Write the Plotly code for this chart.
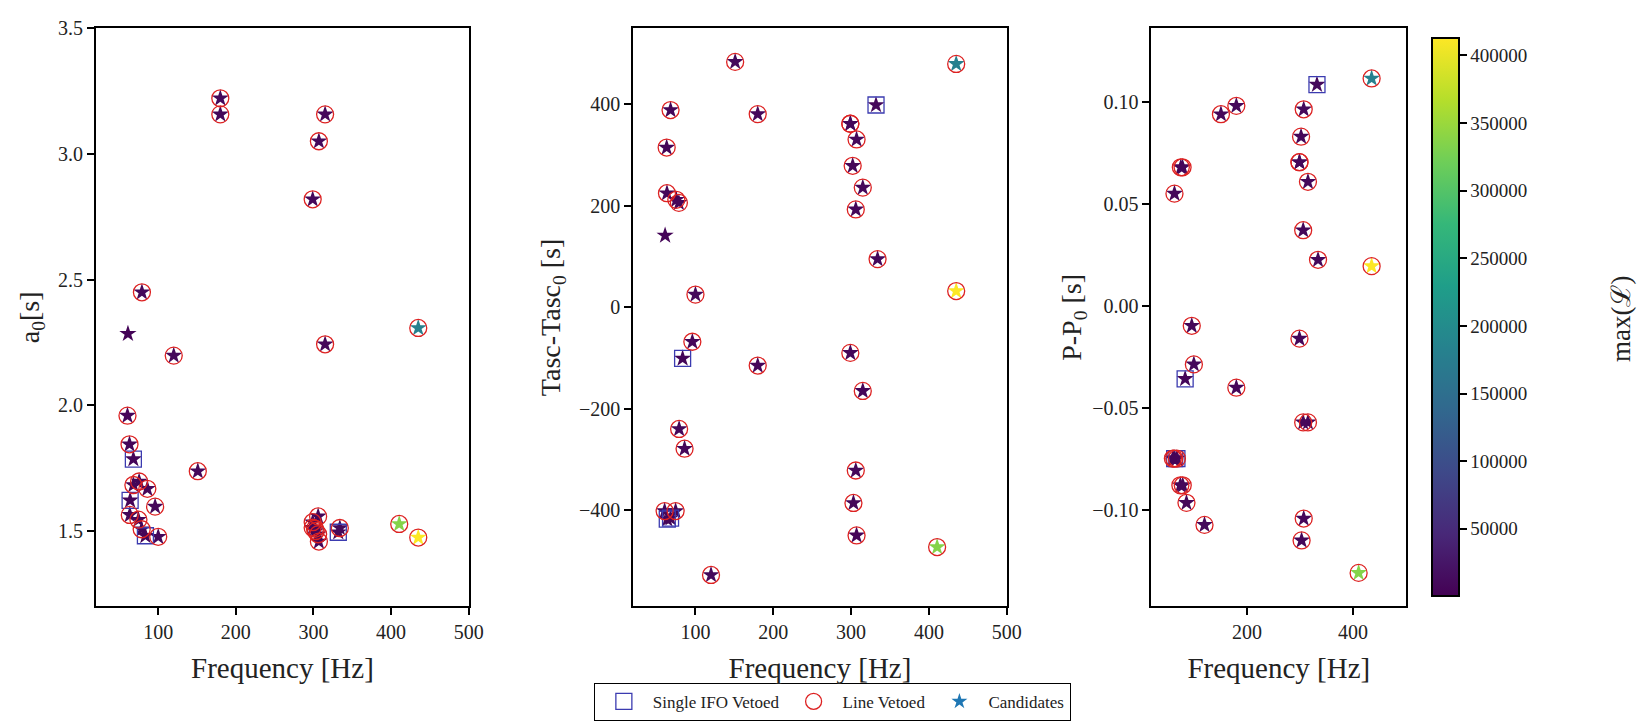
import plotly.graph_objects as go

# ---- data (one entry per candidate) ----
freq = [60.4, 63.0, 63.4, 68.0, 74.5, 75.4, 78.7, 79.0, 86.0,
        63.8, 68.0, 83.5, 61.0,
        96.0, 100.0, 120.0, 151.0, 180.0, 180.0,
        315.0, 315.0, 307.0, 306.0, 306.0, 307.0, 299.0, 299.0, 302.0, 299.0, 303.0,
        334.0, 332.0, 435.0, 435.0, 410.5]
a0 = [1.959, 1.845, 1.564, 1.683, 1.545, 1.697, 1.507, 2.450, 1.668,
      1.622, 1.786, 1.481, 2.285,
      1.597, 1.477, 2.198, 1.738, 3.222, 3.158,
      3.158, 2.243, 3.051, 1.558, 1.487, 1.458, 2.820, 1.535, 1.509, 1.513, 1.500,
      1.512, 1.495, 2.308, 1.474, 1.528]
tasc = [-402, 315, 225, 389, -402, 212, 206, -240, -279,
        -418, -416, -101, 141.6,
        -68, 25, -528, 484, 381, -115,
        236, -165, 331, 193, -322, -450, 362, 362, 279, -90, -386,
        95, 399, 480, 32, -473]
dP = [-0.0746, -0.0746, 0.0551, -0.0746, -0.0877, 0.068, 0.068, -0.0877, -0.0963,
      -0.0746, -0.0746, -0.0356, -0.0746,
      -0.0096, -0.0285, -0.1071, 0.094, 0.0981, -0.0399,
      0.0609, -0.0569, 0.0964, 0.0372, -0.0569, -0.104, 0.0705, 0.0705, 0.083, -0.0159, -0.1147,
      0.0227, 0.1085, 0.1115, 0.0196, -0.1306]
maxL = [6000, 5000, 7000, 5500, 6500, 5000, 6000, 8000, 7000,
        5000, 6000, 5500, 4000,
        7000, 8000, 9000, 8000, 9000, 7000,
        8000, 6000, 9000, 7000, 8000, 6000, 9000, 8000, 7000, 6000, 7000,
        8000, 9000, 180000, 412000, 335000]
single_ifo = [False]*9 + [True, True, True, False] + [False]*6 + [False]*11 + [False, True, False, False, False]
line_veto = [True]*9 + [False, False, False, False] + [True]*6 + [True]*11 + [True, False, True, True, True]

legend_labels = ["Single IFO Vetoed", "Line Vetoed", "Candidates"]
colorbar_title = "max(ℒ)"
colorbar_ticks = [50000, 100000, 150000, 200000, 250000, 300000, 350000, 400000]
x_title = "Frequency [Hz]"
y_titles = ["a<sub>0</sub>[s]", "Tasc-Tasc<sub>0</sub> [s]", "P-P<sub>0</sub> [s]"]

FONT = "Liberation Serif, DejaVu Serif, serif"
TXT = "#222222"
SQ_COLOR = "#3b3bb0"
CIRC_COLOR = "#dd2222"
W, H = 1651, 721

fig = go.Figure()
ys = [a0, tasc, dP]
for i, yv in enumerate(ys):
    xa = "x" if i == 0 else f"x{i+1}"
    ya = "y" if i == 0 else f"y{i+1}"
    fig.add_trace(go.Scatter(
        x=freq, y=yv, xaxis=xa, yaxis=ya, mode="markers", showlegend=False,
        marker=dict(symbol="star", size=13, color=maxL, colorscale="Viridis",
                    cmin=0, cmax=412500, line=dict(width=0),
                    showscale=(i == 2),
                    colorbar=dict(x=1435/W, xanchor="left", y=1-18/H, yanchor="top",
                                  len=(615-18)/H, lenmode="fraction", thickness=27,
                                  outlinecolor="black", outlinewidth=2,
                                  ticks="outside", ticklen=7, tickwidth=1.5, tickcolor="black",
                                  tickvals=colorbar_ticks,
                                  ticktext=[str(v) for v in colorbar_ticks],
                                  tickfont=dict(family=FONT, size=19, color=TXT))),
    ))
    sx = [f for f, s in zip(freq, single_ifo) if s]
    sy = [v for v, s in zip(yv, single_ifo) if s]
    fig.add_trace(go.Scatter(
        x=sx, y=sy, xaxis=xa, yaxis=ya, mode="markers", name=legend_labels[0],
        showlegend=(i == 0), legendrank=1,
        marker=dict(symbol="square-open", size=16, color=SQ_COLOR, line=dict(width=1.3, color=SQ_COLOR)),
    ))
    cx = [f for f, s in zip(freq, line_veto) if s]
    cy = [v for v, s in zip(yv, line_veto) if s]
    fig.add_trace(go.Scatter(
        x=cx, y=cy, xaxis=xa, yaxis=ya, mode="markers", name=legend_labels[1],
        showlegend=(i == 0), legendrank=2,
        marker=dict(symbol="circle-open", size=17, color=CIRC_COLOR, line=dict(width=1.3, color=CIRC_COLOR)),
    ))

fig.add_trace(go.Scatter(x=[None], y=[None], mode="markers", name=legend_labels[2],
                         legendrank=3, marker=dict(symbol="star", size=12, color="#1f77b4")))

doms = [(97/W, 473/W), (639/W, 1016/W), (1162/W, 1419/W)]
ydom = (1-615/H, 1-18/H)
yranges = [[1.2, 3.5], [-590, 550], [-0.147, 0.136]]
ydticks = [0.5, 200, 0.05]
yfmts = [".1f", "d", ".2f"]
xdticks = [100, 100, 200]
ystandoff = [10, 10, 2]

axis_common = dict(showline=True, mirror=True, linecolor="black", linewidth=2,
                   ticks="outside", ticklen=7, tickwidth=1.5, tickcolor="black",
                   showgrid=False, zeroline=False,
                   tickfont=dict(family=FONT, size=20, color=TXT))
layout = dict(width=W, height=H, margin=dict(l=0, r=0, t=0, b=0),
              paper_bgcolor="white", plot_bgcolor="white",
              font=dict(family=FONT, color=TXT),
              legend=dict(orientation="h", x=840/W, xanchor="center", y=1-694/H, yanchor="top",
                          bordercolor="black", borderwidth=1, bgcolor="white",
                          font=dict(family=FONT, size=17, color=TXT),
                          itemwidth=48, tracegroupgap=0),
              annotations=[dict(text=colorbar_title, xref="paper", yref="paper",
                                x=1636/W, y=1-318/H, xanchor="center", yanchor="middle",
                                textangle=-90, showarrow=False,
                                font=dict(family=FONT, size=27, color=TXT))])
for i in range(3):
    sfx = "" if i == 0 else str(i+1)
    layout["xaxis" + sfx] = dict(axis_common, domain=list(doms[i]), range=[20, 500],
                                 tick0=0, dtick=xdticks[i], anchor="y" + sfx,
                                 title=dict(text=x_title, font=dict(family=FONT, size=29, color=TXT), standoff=15))
    layout["yaxis" + sfx] = dict(axis_common, domain=list(ydom), range=yranges[i],
                                 tick0=0, dtick=ydticks[i], tickformat=yfmts[i], anchor="x" + sfx,
                                 title=dict(text=y_titles[i], font=dict(family=FONT, size=28, color=TXT),
                                            standoff=ystandoff[i]))
fig.update_layout(**layout)
fig.write_html("out.html")
